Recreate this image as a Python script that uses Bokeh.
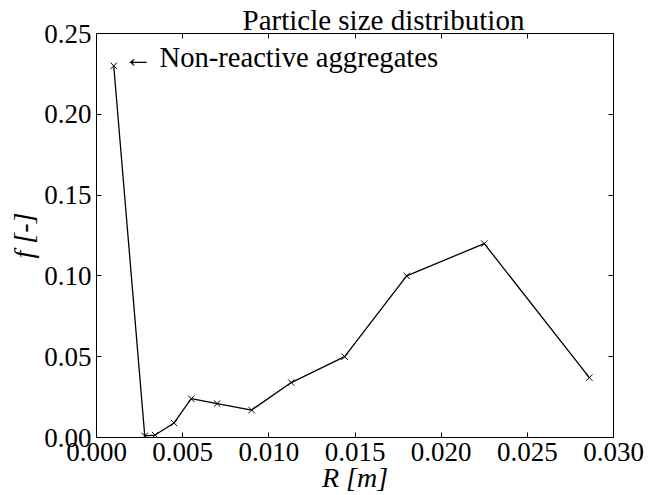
from bokeh.plotting import figure
from bokeh.models import (Range1d, LinearAxis, FixedTicker, NumeralTickFormatter,
                          Label, ColumnDataSource)
from bokeh.embed import file_html
from bokeh.resources import INLINE

# ---- data ----
R_m = [0.0010, 0.0028, 0.0034, 0.0045, 0.0055, 0.0070, 0.0090, 0.0113,
       0.0144, 0.0180, 0.0225, 0.0286]
f_frac = [0.230, 0.001, 0.0015, 0.009, 0.024, 0.021, 0.017, 0.034,
          0.050, 0.100, 0.120, 0.037]
x_ticks = [0.000, 0.005, 0.010, 0.015, 0.020, 0.025, 0.030]
y_ticks = [0.00, 0.05, 0.10, 0.15, 0.20, 0.25]
title_text = "Particle size distribution"
annot_text = "\u2190 Non-reactive aggregates"
x_label = "R [m]"
y_label = "f [-]"

FONT = "Liberation Serif"
TICK_SIZE = "27px"
TEXT_SIZE = "28px"

src = ColumnDataSource(dict(x=R_m, y=f_frac))

p = figure(width=650, height=495, output_backend="svg", toolbar_location=None,
           x_range=Range1d(0, 0.03), y_range=Range1d(0, 0.25),
           min_border_left=96, min_border_right=37, min_border_top=33,
           min_border_bottom=58, x_axis_type=None, y_axis_type=None)
p.background_fill_color = "white"
p.border_fill_color = "white"
p.outline_line_color = "black"
p.outline_line_width = 1
p.xgrid.visible = False
p.ygrid.visible = False

p.title.text = title_text
p.title.text_font = FONT
p.title.text_font_size = "29px"
p.title.text_font_style = "normal"
p.title.text_color = "black"
p.title.align = "left"
p.title.offset = 146
p.title.standoff = -4


def style_axis(ax, ticks, fmt, show_labels):
    ax.ticker = FixedTicker(ticks=ticks)
    ax.formatter = NumeralTickFormatter(format=fmt)
    ax.axis_line_color = "black"
    ax.axis_line_width = 1
    ax.major_tick_in = 5
    ax.major_tick_out = 0
    ax.major_tick_line_color = "black"
    ax.major_tick_line_width = 1
    ax.minor_tick_line_color = None
    if show_labels:
        ax.major_label_text_font = FONT
        ax.major_label_text_font_size = TICK_SIZE
        ax.major_label_text_color = "black"
        ax.axis_label_text_font = FONT
        ax.axis_label_text_font_size = TEXT_SIZE
        ax.axis_label_text_font_style = "italic"
        ax.axis_label_text_color = "black"
    else:
        ax.major_label_text_font_size = "1px"
        ax.major_label_text_color = None
        ax.major_label_standoff = 0


xb = LinearAxis(axis_label=x_label)
style_axis(xb, x_ticks, "0.000", True)
xb.major_label_standoff = 5
xb.axis_label_standoff = -2
p.add_layout(xb, "below")

xt = LinearAxis()
style_axis(xt, x_ticks, "0.000", False)
p.add_layout(xt, "above")

yl = LinearAxis(axis_label=y_label)
style_axis(yl, y_ticks, "0.00", True)
yl.major_label_standoff = 5
yl.axis_label_standoff = 2
p.add_layout(yl, "left")

yr = LinearAxis()
style_axis(yr, y_ticks, "0.00", False)
p.add_layout(yr, "right")

p.line("x", "y", source=src, line_color="black", line_width=1.3)
p.scatter("x", "y", source=src, marker="x", size=9, line_color="black",
          line_width=1)

# annotation next to first point
p.add_layout(Label(x=R_m[0], y=f_frac[0], x_offset=10, y_offset=8,
                   text=annot_text, text_font=FONT, text_font_size="28.6px",
                   text_baseline="alphabetic", text_align="left",
                   text_color="black"))

open("out.html", "w").write(file_html(p, INLINE))
